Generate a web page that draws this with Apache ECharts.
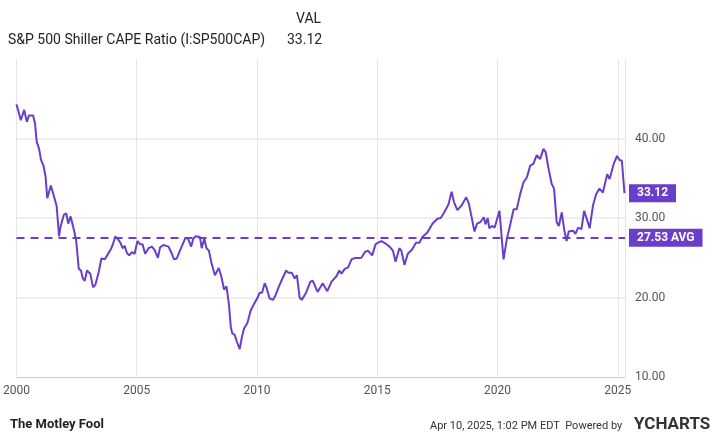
<!DOCTYPE html>
<html lang="en">
<head>
    <meta charset="UTF-8">
    <title>CAPE</title>
    <style>
        body{margin:0;background:#fff;}
    </style>
    <script src="https://cdn.jsdelivr.net/npm/echarts@6/dist/echarts.min.js"></script>
</head>
<body>
    <div id="main" style="width: 720px;height:441px;"></div>
    <script type="text/javascript">
        // decimal years and CAPE values
        var years = [2000.0,2000.18,2000.32,2000.43,2000.52,2000.69,2000.77,2000.84,2000.94,2001.02,2001.12,2001.21,2001.28,2001.35,2001.43,2001.56,2001.67,2001.77,2001.83,2001.97,2002.07,2002.15,2002.25,2002.39,2002.48,2002.59,2002.68,2002.76,2002.84,2002.93,2003.07,2003.18,2003.28,2003.42,2003.53,2003.67,2003.77,2003.91,2004.0,2004.11,2004.22,2004.32,2004.41,2004.5,2004.59,2004.69,2004.8,2004.91,2005.03,2005.14,2005.24,2005.35,2005.49,2005.63,2005.74,2005.88,2005.97,2006.11,2006.32,2006.46,2006.55,2006.66,2006.84,2007.01,2007.12,2007.17,2007.26,2007.35,2007.45,2007.63,2007.7,2007.81,2007.9,2008.0,2008.11,2008.25,2008.41,2008.52,2008.63,2008.73,2008.83,2008.91,2008.97,2009.07,2009.17,2009.28,2009.37,2009.46,2009.6,2009.74,2009.88,2010.01,2010.11,2010.21,2010.32,2010.39,2010.52,2010.66,2010.76,2010.9,2011.03,2011.21,2011.31,2011.45,2011.56,2011.66,2011.77,2011.86,2012.04,2012.22,2012.32,2012.52,2012.73,2012.92,2013.1,2013.31,2013.42,2013.51,2013.65,2013.79,2013.93,2014.06,2014.2,2014.34,2014.48,2014.61,2014.79,2014.93,2015.03,2015.17,2015.34,2015.51,2015.65,2015.76,2015.92,2016.0,2016.13,2016.27,2016.44,2016.61,2016.75,2016.88,2017.09,2017.3,2017.5,2017.64,2017.78,2017.96,2018.09,2018.19,2018.33,2018.51,2018.7,2018.81,2018.95,2019.04,2019.15,2019.29,2019.43,2019.5,2019.59,2019.66,2019.77,2019.88,2020.08,2020.16,2020.25,2020.39,2020.53,2020.67,2020.8,2020.94,2021.08,2021.22,2021.36,2021.49,2021.63,2021.77,2021.91,2022.0,2022.11,2022.25,2022.35,2022.46,2022.55,2022.67,2022.78,2022.87,2022.96,2023.14,2023.24,2023.35,2023.49,2023.6,2023.71,2023.83,2023.97,2024.1,2024.24,2024.38,2024.56,2024.66,2024.83,2024.97,2025.07,2025.17,2025.24,2025.28];
        var cape = [44.3,42.3,43.6,42.1,42.9,42.9,41.9,39.6,38.7,37.3,36.6,35.2,32.5,32.3,34.1,32.7,31.5,27.7,28.9,30.4,30.6,29.3,30.2,28.5,27.2,23.6,23.4,22.4,22.1,23.4,23.0,21.3,21.6,23.2,24.9,24.8,25.3,26.0,26.6,27.7,27.3,26.9,26.2,26.5,25.6,25.3,25.7,25.5,27.1,26.7,26.7,25.5,26.2,26.4,26.0,25.0,26.3,26.6,26.4,25.5,24.8,24.9,26.2,27.4,27.5,27.6,26.4,27.4,27.7,27.6,26.2,27.4,26.2,25.9,24.3,22.8,23.7,22.6,21.0,21.4,19.2,16.3,15.5,15.3,14.4,13.5,15.0,16.1,16.8,18.4,19.2,19.9,20.6,20.6,21.8,21.3,19.9,19.7,20.2,21.3,22.2,23.4,23.1,23.1,22.4,22.8,20.0,19.7,20.6,22.0,22.1,20.7,21.8,20.8,22.0,22.7,23.4,23.0,23.6,23.8,24.8,24.96,24.96,25.0,25.7,25.9,25.3,26.7,26.9,27.1,26.8,26.4,25.9,24.5,26.2,25.9,24.1,25.5,26.0,26.9,26.9,27.6,28.2,29.3,29.9,30.0,30.7,31.7,33.3,32.0,31.0,31.6,32.6,31.8,29.7,28.3,29.3,29.5,30.1,29.2,30.0,28.7,29.0,28.8,30.9,30.7,24.8,27.4,29.2,31.1,31.1,33.0,34.5,35.1,36.6,36.8,37.9,37.4,38.7,38.3,36.4,34.3,33.7,29.5,29.0,30.7,28.4,27.1,28.3,28.4,28.0,28.8,28.6,30.9,29.9,28.7,31.6,33.0,33.7,33.2,35.5,34.9,36.8,37.8,37.3,37.2,34.5,33.12];
        var yTicks = [10, 20, 30, 40];
        var lastValue = 33.12;
        var avgValue = 27.53;

        var purple = '#6a3dca';
        var data = years.map(function (y, i) { return [y, cape[i]]; });

        var chart = echarts.init(document.getElementById('main'));
        var option = {
            animation: false,
            textStyle: { fontFamily: 'Roboto, sans-serif' },
            grid: { left: 11, right: 95, top: 59, bottom: 64 },
            xAxis: {
                type: 'value', min: 2000, max: 2025.3, interval: 5,
                axisLine: { show: true, lineStyle: { color: '#ccc' } },
                axisTick: { show: false },
                splitLine: { show: true, lineStyle: { color: '#e6e6e6' } },
                axisLabel: { color: '#555', fontSize: 12, margin: 8, showMaxLabel: false,
                    formatter: function (v) { return v % 5 === 0 ? String(v) : ''; } }
            },
            yAxis: {
                type: 'value', position: 'right', min: 10, max: 50, interval: 10,
                axisLine: { show: false }, axisTick: { show: false },
                splitLine: { lineStyle: { color: ['rgba(0,0,0,0)', '#efefef', '#efefef', '#efefef', 'rgba(0,0,0,0)'], width: 2 } },
                axisLabel: { color: '#555', fontSize: 12, margin: 10,
                    formatter: function (v) { return yTicks.indexOf(v) >= 0 ? v.toFixed(2) : ''; } }
            },
            series: [{
                type: 'line', data: data, showSymbol: false,
                lineStyle: { color: purple, width: 2 },
                markLine: {
                    symbol: 'none', silent: true,
                    data: [
                        { yAxis: avgValue, lineStyle: { color: purple, type: [8, 6], width: 2 },
                          label: { formatter: avgValue.toFixed(2) + ' AVG' } },
                        { yAxis: lastValue, lineStyle: { color: 'rgba(0,0,0,0)', width: 0 },
                          label: { formatter: lastValue.toFixed(2) } }
                    ],
                    label: {
                        position: 'end', distance: 4, color: '#fff', fontWeight: 'bold', fontSize: 12,
                        backgroundColor: purple, padding: [3, 8, 3, 8]
                    }
                }
            }],
            graphic: [
                { type: 'text', left: 8, top: 33, style: { text: 'S&P 500 Shiller CAPE Ratio (I:SP500CAP)', fontSize: 14, fill: '#222', fontFamily: 'Roboto' } },
                { type: 'text', left: 296, top: 12, style: { text: 'VAL', fontSize: 14, fill: '#222', fontFamily: 'Roboto' } },
                { type: 'text', left: 287, top: 33, style: { text: '33.12', fontSize: 14, fill: '#222', fontFamily: 'Roboto' } },
                { type: 'text', left: 10, top: 418, style: { text: 'The Motley Fool', fontSize: 13, fontWeight: 'bold', fill: '#222', fontFamily: 'Roboto' } },
                { type: 'text', left: 430, top: 421, style: { text: 'Apr 10, 2025, 1:02 PM EDT  Powered by', fontSize: 11, fill: '#333', fontFamily: 'Roboto' } },
                { type: 'text', left: 634, top: 416, style: { text: 'YCHARTS', fontSize: 17, fontWeight: 'bold', fill: '#333', fontFamily: 'Roboto' } }
            ]
        };
        chart.setOption(option);
    </script>
</body>
</html>
